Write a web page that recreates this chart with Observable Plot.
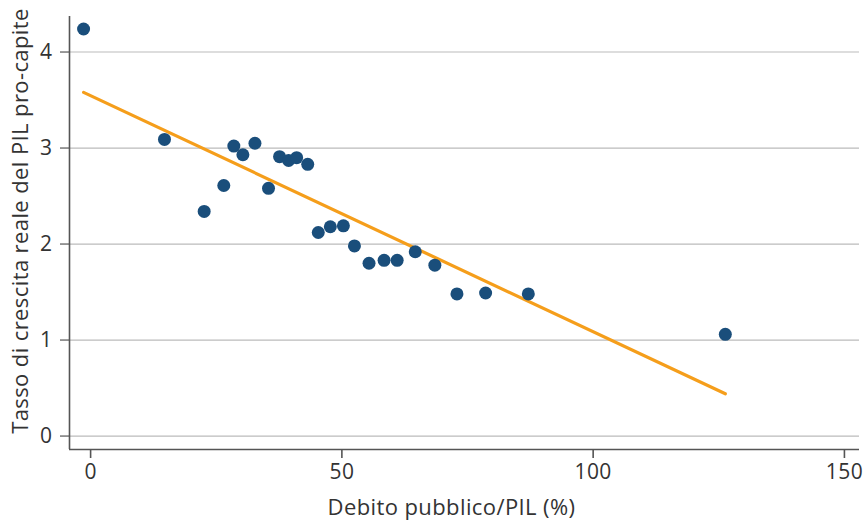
<!DOCTYPE html>
<html>
<head>
<meta charset="utf-8">
<script src="https://cdn.jsdelivr.net/npm/d3@7"></script>
<script src="https://cdn.jsdelivr.net/npm/@observablehq/plot@0.6"></script>
<style>
  html, body { margin: 0; padding: 0; background: #fff; }
  #chart svg { display: block; }
</style>
</head>
<body>
<div id="chart"></div>
<script>
const debt = [-1.4, 14.7, 22.6, 26.5, 28.5, 30.3, 32.7, 35.4, 37.6, 39.4, 41.0, 43.2, 45.3, 47.7, 50.3, 52.5, 55.4, 58.4, 61.0, 64.6, 68.5, 72.9, 78.6, 87.1, 126.3];
const growth = [4.24, 3.09, 2.34, 2.61, 3.02, 2.93, 3.05, 2.58, 2.91, 2.87, 2.90, 2.83, 2.12, 2.18, 2.19, 1.98, 1.80, 1.83, 1.83, 1.92, 1.78, 1.48, 1.49, 1.48, 1.06];
const trendX = [-1.4, 126.3];
const trendY = [3.58, 0.44];
const xTicks = [0, 50, 100, 150];
const yTicks = [0, 1, 2, 3, 4];
const xLabel = "Debito pubblico/PIL (%)";
const yLabel = "Tasso di crescita reale del PIL pro-capite";

const points = debt.map((d, i) => ({x: d, y: growth[i]}));
const trend = trendX.map((d, i) => ({x: d, y: trendY[i]}));

const font = "Open Sans, Lato, sans-serif";
const textColor = "#333";
const axisColor = "#555";

const chart = Plot.plot({
  width: 863,
  height: 527,
  marginLeft: 69,
  marginRight: 4,
  marginTop: 16,
  marginBottom: 78,
  style: {fontFamily: font, fontSize: "22px", color: textColor, background: "#fff", letterSpacing: "0.4px"},
  x: {domain: [-4.2, 153], ticks: xTicks, tickFormat: "d"},
  y: {domain: [-0.14, 4.37], ticks: yTicks, tickFormat: "d"},
  marks: [
    Plot.gridY(yTicks, {stroke: "#bbb", strokeOpacity: 1, strokeWidth: 1.2}),
    Plot.axisY({ticks: yTicks, tickFormat: "d", label: null, tickSize: 9, tickPadding: 8, fontSize: 21, stroke: axisColor, strokeWidth: 1.2, fill: textColor}),
    Plot.axisX({ticks: xTicks, tickFormat: "d", label: null, tickSize: 9, tickPadding: 6, fontSize: 21, stroke: axisColor, strokeWidth: 1.6, fill: textColor}),
    Plot.ruleX([-4.2], {stroke: axisColor, strokeWidth: 1.6}),
    Plot.ruleY([-0.14], {stroke: axisColor, strokeWidth: 1.6}),
    Plot.line(trend, {x: "x", y: "y", stroke: "#f59e1b", strokeWidth: 3.2}),
    Plot.dot(points, {x: "x", y: "y", r: 6.5, fill: "#1a4e7b", stroke: "none"}),
    Plot.text([xLabel], {frameAnchor: "bottom", dx: -13, dy: 65, fontSize: 22, fill: textColor, fontFamily: font}),
    Plot.text([yLabel], {frameAnchor: "left", textAnchor: "middle", dx: -49, dy: -12, rotate: -90, fontSize: 22, fill: textColor, fontFamily: font})
  ]
});
document.getElementById("chart").appendChild(chart);
</script>
</body>
</html>
